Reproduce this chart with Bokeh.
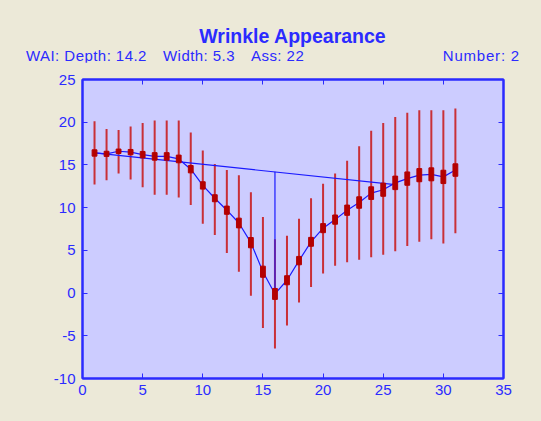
from bokeh.plotting import figure
from bokeh.models import LinearAxis, FixedTicker, Range1d, Div
from bokeh.layouts import column
from bokeh.embed import file_html
from bokeh.resources import INLINE

xs = list(range(1, 32))
mean = [16.4, 16.3, 16.6, 16.5, 16.2, 16.0, 16.0, 15.7, 14.5, 12.6, 11.1, 9.7, 8.2, 5.9, 2.5,
        -0.1, 1.5, 3.8, 6.0, 7.6, 8.6, 9.7, 10.6, 11.7, 12.1, 12.9, 13.4, 13.8, 13.9, 13.6, 14.4]
err_hi = [20.1, 19.2, 19.1, 19.5, 19.9, 20.2, 20.2, 20.2, 18.8, 16.7, 15.1, 14.4, 13.8, 11.8, 8.9,
          6.3, 6.7, 8.7, 11.1, 12.8, 14.0, 15.5, 17.2, 19.0, 19.9, 20.6, 21.1, 21.4, 21.4, 21.4, 21.6]
err_lo = [12.7, 13.2, 14.0, 13.3, 12.4, 11.5, 11.5, 11.2, 10.3, 8.1, 6.8, 4.7, 2.5, -0.3, -4.1,
          -6.5, -3.8, -1.1, 0.7, 2.3, 3.2, 3.6, 3.9, 4.2, 4.5, 4.9, 5.5, 6.0, 6.3, 5.8, 7.0]
box_half = [0.37, 0.30, 0.26, 0.31, 0.38, 0.44, 0.44, 0.45, 0.43, 0.43, 0.41, 0.48, 0.57, 0.60, 0.65,
            0.64, 0.53, 0.49, 0.52, 0.53, 0.54, 0.60, 0.67, 0.74, 0.77, 0.79, 0.78, 0.77, 0.76, 0.78, 0.73]
base_x = [1, 26]
base_y = [16.4, 12.7]
depth_x = [16, 16]
depth_y = [14.2, -0.1]
x_ticks = [0, 5, 10, 15, 20, 25, 30, 35]
y_ticks = [-10, -5, 0, 5, 10, 15, 20, 25]
y_tick_labels = ["-10", "-5", "0", "5", "10", "15", "20", "25"]

title_text = "Wrinkle Appearance"
info_parts = ["WAI: Depth: 14.2", "Width: 5.3", "Ass: 22"]
number_text = "Number: 2"

BLUE = "#2b2bff"
BG = "#ece9d8"
HEAD_H = 62
FONT = "'Liberation Sans',Arial,sans-serif"

info_lefts = [26, 163, 251]
info_html = "".join(
    f'<div style="position:absolute;left:{lx}px;top:47px;white-space:nowrap;font-size:15px;'
    f'line-height:17px;letter-spacing:0.45px;">{t}</div>'
    for lx, t in zip(info_lefts, info_parts)
)
header_html = (
    f'<div style="position:relative;width:541px;height:{HEAD_H}px;font-family:{FONT};color:{BLUE};">'
    f'<div style="position:absolute;left:142px;top:25px;width:301px;text-align:center;font-weight:bold;'
    f'font-size:19.5px;line-height:22px;">{title_text}</div>'
    + info_html +
    f'<div style="position:absolute;right:21px;top:47px;white-space:nowrap;font-size:15px;line-height:17px;'
    f'letter-spacing:0.8px;">{number_text}</div>'
    '</div>'
)
header = Div(text=header_html, width=541, height=HEAD_H, margin=0,
             styles={"background-color": BG})

p = figure(width=541, height=421 - HEAD_H, output_backend="svg", toolbar_location=None,
           x_range=Range1d(0, 35), y_range=Range1d(-10, 25),
           background_fill_color="#ccccff", border_fill_color=BG,
           min_border_left=82, min_border_right=38, min_border_top=79 - HEAD_H, min_border_bottom=43,
           margin=0)
p.grid.visible = False
p.outline_line_color = BLUE
p.outline_line_width = 2

for ax in p.axis:
    ax.axis_line_color = BLUE
    ax.axis_line_width = 2
    ax.major_tick_line_color = BLUE
    ax.major_tick_in = 5
    ax.major_tick_out = 0
    ax.minor_tick_line_color = None
    ax.major_label_text_color = BLUE
    ax.major_label_text_font = "Liberation Sans"
    ax.major_label_text_font_size = "15px"
p.xaxis.ticker = FixedTicker(ticks=x_ticks)
p.yaxis.ticker = FixedTicker(ticks=y_ticks)
p.yaxis.major_label_overrides = {t: s for t, s in zip(y_ticks, y_tick_labels)}
p.xaxis.major_label_standoff = 6
p.yaxis.major_label_standoff = 7

top_ax = LinearAxis(ticker=FixedTicker(ticks=x_ticks), major_label_overrides={t: "" for t in x_ticks},
                    major_label_standoff=0,
                    axis_line_color=BLUE, axis_line_width=2, major_tick_line_color=BLUE,
                    major_tick_in=5, major_tick_out=0, minor_tick_line_color=None)
right_ax = LinearAxis(ticker=FixedTicker(ticks=y_ticks), major_label_overrides={t: "" for t in y_ticks},
                      axis_line_color=BLUE, axis_line_width=2, major_tick_line_color=BLUE,
                      major_tick_in=5, major_tick_out=0, minor_tick_line_color=None)
p.add_layout(top_ax, "above")
p.add_layout(right_ax, "right")

# error bars
p.segment(x0=xs, y0=err_lo, x1=xs, y1=err_hi, line_color="#c81414", line_width=2, line_alpha=0.85)
# baseline and depth lines
p.line(base_x, base_y, line_color="#1a1aff", line_width=1.2)
p.line(depth_x, depth_y, line_color="#1a1aff", line_width=1.2)
# mean line
p.line(xs, mean, line_color="#1a1aff", line_width=1.2)
# boxes
box_lo = [m - h for m, h in zip(mean, box_half)]
box_hi = [m + h for m, h in zip(mean, box_half)]
p.vbar(x=xs, bottom=box_lo, top=box_hi, width=0.4, fill_color="#b40000", line_color="#b40000", line_width=1)

layout = column(header, p, spacing=0, margin=0, styles={"background-color": BG})

open("out.html", "w").write(file_html(layout, INLINE))
